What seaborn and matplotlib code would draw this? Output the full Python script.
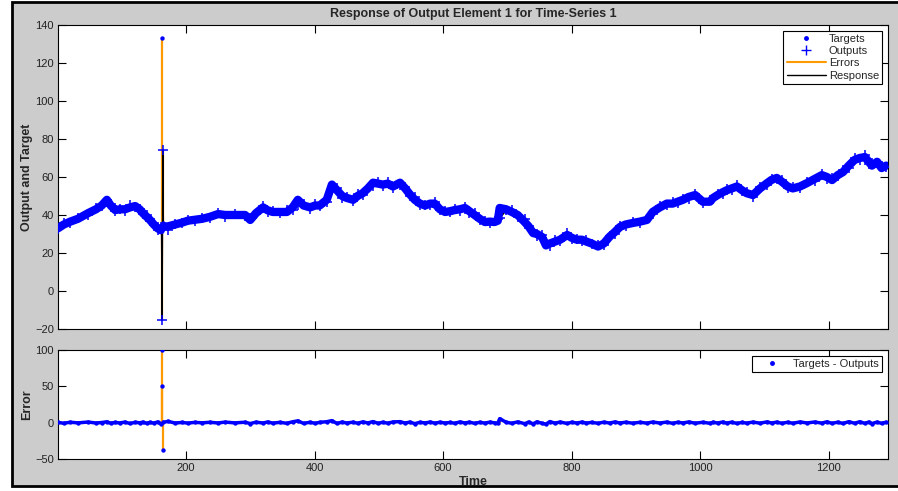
import numpy as np
import pandas as pd
import matplotlib
matplotlib.use("Agg")
import matplotlib.pyplot as plt
import seaborn as sns
from matplotlib.lines import Line2D
from matplotlib.patches import Rectangle

# ---------------- data ----------------
times = [1, 10, 20, 32, 48, 60, 69, 77, 83, 90,
         97, 105, 113, 121, 128, 133, 139, 144, 150, 156,
         161, 162, 163, 164, 165, 172, 183, 194, 203, 214, 225,
         237, 250, 261, 276, 292, 300, 309, 320, 327, 335,
         346, 357, 366, 374, 383, 393, 401, 408, 419, 427,
         435, 443, 450, 460, 467, 475, 483, 491, 499, 506,
         514, 522, 533, 541, 548, 556, 564, 572, 580, 587,
         595, 603, 611, 618, 626, 634, 641, 649, 657, 665,
         673, 680, 685, 688, 698, 707, 716, 727, 733, 740,
         746, 754, 760, 766, 774, 782, 793, 800, 808, 816,
         823, 831, 841, 850, 859, 867, 875, 884, 895, 906,
         917, 926, 937, 948, 957, 965, 973, 982, 992, 1004,
         1015, 1020, 1027, 1035, 1041, 1049, 1057, 1065, 1072, 1082,
         1093, 1104, 1111, 1119, 1127, 1136, 1144, 1155, 1166, 1178,
         1189, 1197, 1205, 1214, 1222, 1231, 1240, 1248, 1256, 1262,
         1267, 1275, 1282, 1289]

targets = [33, 35, 36.5, 38, 41, 43, 45, 48, 45, 42.6,
           43, 43, 44, 44.7, 43, 41, 39, 37.4, 35, 33,
           32, 133, 35, 36, 34, 34, 35, 36, 37, 37.5, 38,
           39, 40.5, 40, 40, 40, 37.4, 41, 44, 42.5, 41.6,
           41.6, 41.6, 44, 48, 45, 44, 45, 45, 48, 56,
           53, 50, 49, 48, 50, 51.5, 54, 57, 56.5, 56,
           56.5, 55, 57, 54, 51, 48, 46, 45, 46, 46,
           43, 41.6, 42, 42.6, 43, 43.7, 42, 40, 38, 36.3,
           36.5, 36.3, 37, 43.7, 43, 41.6, 40, 36.3, 34, 30.5,
           30, 28.4, 24, 25, 26, 27, 29.5, 28, 27, 27,
           26, 25, 23.4, 25, 28.6, 31, 33.7, 35, 35.8, 36.5,
           37.4, 41.6, 44, 46, 46, 47, 48, 49.5, 50.5, 47,
           47, 49, 50.5, 52, 53, 54, 55, 53, 51.5, 50.5,
           54, 56.8, 58.5, 59.5, 57.5, 55, 54, 55, 56.8, 59,
           61, 60, 58.4, 61, 62.6, 66, 69, 70, 70.5, 68,
           66, 68, 64.7, 66]

errors = [0.4, -0.8, 0.6, -0.3, 0.9, -0.5, 0.2, 1.2, -0.7, 0.3,
          -0.4, 0.8, -1.1, 0.5, -0.2, 0.7, -0.9, 0.4, -0.6, 1.0,
          -1.5, 100, 50, -38, 0.5, 1.8, -0.5, 0.3, -0.6, 0.4, -0.2,
          0.5, -0.4, 0.8, -0.3, 0.6, -1.2, 0.7, -0.5, 1.0, -0.6,
          0.4, -0.8, 1.2, 2.5, -1.0, 0.6, -0.9, 0.5, 1.3, 2.8,
          -1.1, 0.9, -0.5, 0.7, -0.8, 1.1, -0.4, 1.5, -0.9, 0.6,
          -0.7, 1.0, 1.4, -0.6, 0.8, -1.3, 0.5, -0.4, 0.9, -0.7,
          0.6, -0.5, 0.3, -0.8, 1.0, -0.4, 0.7, -0.9, 0.5, -0.6,
          0.8, -0.3, -0.9, 5.5, 0.6, -0.8, 1.1, -1.4, 0.9, -1.6,
          1.2, -0.9, -2.0, 1.5, -0.7, 0.9, -1.1, 0.6, -0.5, 0.8,
          -0.6, 0.4, -0.8, 0.7, -0.5, 1.0, -0.4, 0.6, -0.7, 0.5,
          -0.6, 0.9, -0.5, 0.8, -0.9, 0.6, -0.4, 1.0, -0.7, 0.5,
          -0.8, 0.6, -0.5, 0.9, -0.6, 0.7, -1.0, 0.4, -0.6, 0.8,
          -0.7, 1.1, -0.5, 0.8, -0.9, 0.6, -0.8, 1.0, -0.4, 0.9,
          -0.6, 1.2, -0.9, 0.7, -1.1, 1.4, -0.8, 1.3, -1.0, 0.9,
          -1.2, 0.8, -0.9, 0.6]

x_ticks = [200, 400, 600, 800, 1000, 1200]
y_ticks_top = [-20, 0, 20, 40, 60, 80, 100, 120, 140]
y_ticks_err = [-50, 0, 50, 100]

title_text = "Response of Output Element 1 for Time-Series 1"

# ---------------- derived table ----------------
df = pd.DataFrame({"time": times, "target": targets, "error": errors})
df["output"] = df["target"] - df["error"]
# the dense run of markers (every point except the large-error outliers)
band = df.copy()
band.loc[band["error"].abs() > 10, ["target", "error"]] = np.nan

BLUE = "#0000ff"
ORANGE = "#ff9900"
GRAY = "#cccccc"

sns.set_theme(style="white")
plt.rcParams["font.family"] = ["Liberation Sans", "DejaVu Sans"]

W, H = 898, 491
fig = plt.figure(figsize=(W / 100, H / 100), dpi=100, facecolor="white")
frame = Rectangle((11.5 / W, 5 / H), 1.2, (486 - 2) / H,
                  transform=fig.transFigure, facecolor=GRAY,
                  edgecolor="black", linewidth=2, zorder=-10)
fig.patches.append(frame)

ax1 = fig.add_axes([58 / W, (H - 329) / H, 830 / W, 304 / H])
ax2 = fig.add_axes([58 / W, (H - 459) / H, 830 / W, 109 / H])

# ---- top panel ----
ax1.vlines(df["time"], df["output"], df["target"], color=ORANGE,
           linewidth=1.6, zorder=2)
sns.lineplot(data=df, x="time", y="output", color="black", linewidth=1,
             estimator=None, ax=ax1, zorder=2.5)
ax1.plot(band["time"], band["target"], color=BLUE, linewidth=6,
         solid_capstyle="round", zorder=3)
sns.scatterplot(data=df, x="time", y="target", marker=".", s=40,
                color=BLUE, edgecolor=BLUE, linewidth=0, ax=ax1, zorder=3)
sns.scatterplot(data=df, x="time", y="output", marker="+", s=60,
                color=BLUE, linewidth=1.1, ax=ax1, zorder=4)

ax1.set_xlim(1, 1292)
ax1.set_ylim(-20, 140)
ax1.set_xticks(x_ticks)
ax1.set_yticks(y_ticks_top)
ax1.tick_params(labelbottom=False)
ax1.set_xlabel("")
ax1.set_ylabel("Output and Target", fontsize=9, fontweight="bold")
ax1.yaxis.set_label_coords(-25 / 830, 0.5)
ax1.set_title(title_text, fontsize=9, fontweight="bold", pad=6)

h_top = [Line2D([], [], marker=".", ls="", color=BLUE, markersize=5, label="Targets"),
         Line2D([], [], marker="+", ls="", color=BLUE, markersize=7, label="Outputs"),
         Line2D([], [], color=ORANGE, lw=1.5, label="Errors"),
         Line2D([], [], color="black", lw=1, label="Response")]
leg1 = ax1.legend(handles=h_top, loc="upper right", fontsize=8, frameon=True,
                  fancybox=False, edgecolor="black", framealpha=1,
                  borderpad=0.3, labelspacing=0.2, handlelength=3.5,
                  handletextpad=0.3, borderaxespad=0.5)
leg1.get_frame().set_linewidth(0.8)

# ---- error panel ----
ax2.vlines(df["time"], 0, df["error"], color=ORANGE, linewidth=1.6, zorder=2)
ax2.plot(band["time"], band["error"], color=BLUE, linewidth=2.5, zorder=3)
sns.scatterplot(data=df, x="time", y="error", marker=".", s=40,
                color=BLUE, edgecolor=BLUE, linewidth=0, ax=ax2, zorder=3)
ax2.set_xlim(1, 1292)
ax2.set_ylim(-50, 100)
ax2.set_xticks(x_ticks)
ax2.set_yticks(y_ticks_err)
ax2.set_xlabel("Time", fontsize=9, fontweight="bold")
ax2.xaxis.set_label_coords(0.5, -0.155)
ax2.set_ylabel("Error", fontsize=9, fontweight="bold")
ax2.yaxis.set_label_coords(-25 / 830, 0.5)

h_bot = [Line2D([], [], marker=".", ls="", color=BLUE, markersize=5,
                label="Targets - Outputs")]
leg2 = ax2.legend(handles=h_bot, loc="upper right", fontsize=8, frameon=True,
                  fancybox=False, edgecolor="black", framealpha=1,
                  borderpad=0.3, handlelength=3.0, handletextpad=0.4,
                  borderaxespad=0.5)
leg2.get_frame().set_linewidth(0.8)

for ax in (ax1, ax2):
    ax.set_facecolor("white")
    for sp in ax.spines.values():
        sp.set_color("black")
        sp.set_linewidth(0.8)
    ax.tick_params(direction="in", length=6, width=0.8, top=True, right=True,
                   bottom=True, left=True, labelsize=8, color="black",
                   labelcolor="#222222", pad=3)

fig.savefig("out.png", dpi=100, facecolor="white")
